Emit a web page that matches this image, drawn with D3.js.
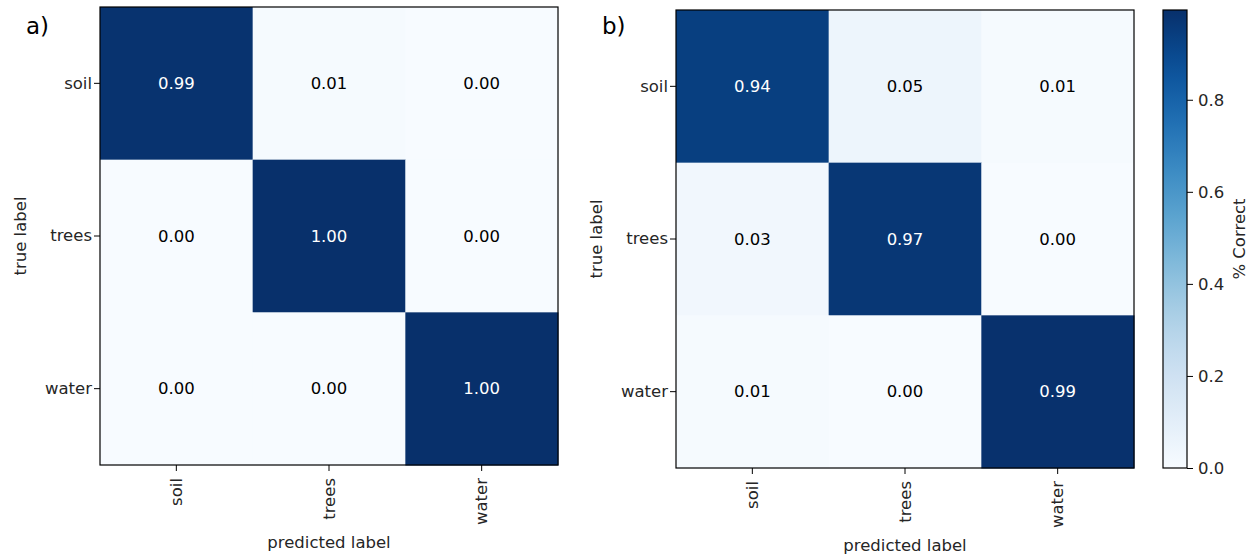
<!DOCTYPE html>
<html>
<head>
<meta charset="utf-8">
<script src="https://cdn.jsdelivr.net/npm/d3@7"></script>
<style>
  body { margin: 0; background: #fff; }
  text { font-family: "DejaVu Sans", sans-serif; fill: #262626; }
</style>
</head>
<body>
<svg id="chart" width="1251" height="554"></svg>
<script>
// Class names (rows = true label, columns = predicted label)
var classes = ["soil", "trees", "water"];

// Normalised confusion matrices
var matrixA = [
  [0.99, 0.01, 0.00],
  [0.00, 1.00, 0.00],
  [0.00, 0.00, 1.00]
];
var matrixB = [
  [0.94, 0.05, 0.01],
  [0.03, 0.97, 0.00],
  [0.01, 0.00, 0.99]
];
var panelTitles = ["a)", "b)"];
var colorbarTicks = [0.0, 0.2, 0.4, 0.6, 0.8];

var svg = d3.select("#chart");
var fs = "16.5px";

// Draws one confusion matrix panel
function drawPanel(matrix, title, left, top, size, vmax) {
  var x = d3.scaleBand().domain(classes).range([left, left + size]);
  var y = d3.scaleBand().domain(classes).range([top, top + size]);
  var color = d3.scaleSequential(d3.interpolateBlues).domain([0, vmax]);
  var thresh = vmax / 2;

  var cells = [];
  matrix.forEach(function(row, i) {
    row.forEach(function(v, j) {
      cells.push({ t: classes[i], p: classes[j], v: v });
    });
  });

  var g = svg.append("g");

  g.selectAll("rect.cell")
    .data(cells)
    .enter().append("rect")
    .attr("class", "cell")
    .attr("x", function(d) { return x(d.p); })
    .attr("y", function(d) { return y(d.t); })
    .attr("width", x.bandwidth() + 0.5)
    .attr("height", y.bandwidth() + 0.5)
    .attr("fill", function(d) { return color(d.v); });

  g.selectAll("text.val")
    .data(cells)
    .enter().append("text")
    .attr("class", "val")
    .attr("x", function(d) { return x(d.p) + x.bandwidth() / 2; })
    .attr("y", function(d) { return y(d.t) + y.bandwidth() / 2; })
    .attr("dy", "0.35em")
    .attr("text-anchor", "middle")
    .style("font-size", fs)
    .style("fill", function(d) { return d.v > thresh ? "#ffffff" : "#000000"; })
    .text(function(d) { return d.v.toFixed(2); });

  // frame
  g.append("rect")
    .attr("x", left).attr("y", top)
    .attr("width", size).attr("height", size)
    .attr("fill", "none")
    .attr("stroke", "#000")
    .attr("stroke-width", 1.2);

  // y axis
  var ya = g.append("g")
    .attr("transform", "translate(" + left + ",0)")
    .call(d3.axisLeft(y).tickSize(6).tickPadding(2));
  ya.select(".domain").remove();
  ya.selectAll("line").attr("stroke", "#000");
  ya.selectAll("text").style("font-size", fs).style("fill", "#262626")
    .attr("font-family", null);

  // x axis with rotated labels
  var xa = g.append("g")
    .attr("transform", "translate(0," + (top + size) + ")")
    .call(d3.axisBottom(x).tickSize(6));
  xa.select(".domain").remove();
  xa.selectAll("line").attr("stroke", "#000");
  xa.selectAll("text")
    .attr("font-family", null)
    .style("font-size", fs)
    .style("fill", "#262626")
    .attr("transform", "rotate(-90)")
    .attr("x", -13)
    .attr("y", 0)
    .attr("dy", "0.35em")
    .attr("text-anchor", "end");

  g.append("text")
    .attr("x", left + size / 2)
    .attr("y", top + size + 83)
    .attr("text-anchor", "middle")
    .style("font-size", fs)
    .text("predicted label");

  g.append("text")
    .attr("transform", "translate(" + (left - 74) + "," + (top + size / 2) + ") rotate(-90)")
    .attr("text-anchor", "middle")
    .style("font-size", fs)
    .text("true label");

  g.append("text")
    .attr("x", left - 74)
    .attr("y", 34)
    .style("font-size", "23px")
    .style("fill", "#000")
    .text(title);
}

drawPanel(matrixA, panelTitles[0], 100, 7, 458, 1.0);
drawPanel(matrixB, panelTitles[1], 676, 10, 458, 0.995);

// Colorbar
var cbLeft = 1163, cbTop = 10, cbW = 24, cbH = 458, cbMax = 0.995;
var cbScale = d3.scaleLinear().domain([0, cbMax]).range([cbTop + cbH, cbTop]);

var grad = svg.append("defs").append("linearGradient")
  .attr("id", "cbgrad")
  .attr("x1", "0").attr("y1", "1").attr("x2", "0").attr("y2", "0");
d3.range(0, 1.0001, 0.05).forEach(function(t) {
  grad.append("stop")
    .attr("offset", t)
    .attr("stop-color", d3.interpolateBlues(t));
});

svg.append("rect")
  .attr("x", cbLeft).attr("y", cbTop)
  .attr("width", cbW).attr("height", cbH)
  .attr("fill", "url(#cbgrad)")
  .attr("stroke", "#000")
  .attr("stroke-width", 1.2);

var cba = svg.append("g")
  .attr("transform", "translate(" + (cbLeft + cbW) + ",0)")
  .call(d3.axisRight(cbScale).tickValues(colorbarTicks).tickFormat(d3.format(".1f")).tickSize(6).tickPadding(5));
cba.select(".domain").remove();
cba.selectAll("line").attr("stroke", "#000");
cba.selectAll("text").attr("font-family", null).style("font-size", fs).style("fill", "#262626");

svg.append("text")
  .attr("transform", "translate(1239," + (cbTop + cbH / 2) + ") rotate(-90)")
  .attr("text-anchor", "middle")
  .attr("dy", "0.35em")
  .style("font-size", fs)
  .text("% Correct");
</script>
</body>
</html>
